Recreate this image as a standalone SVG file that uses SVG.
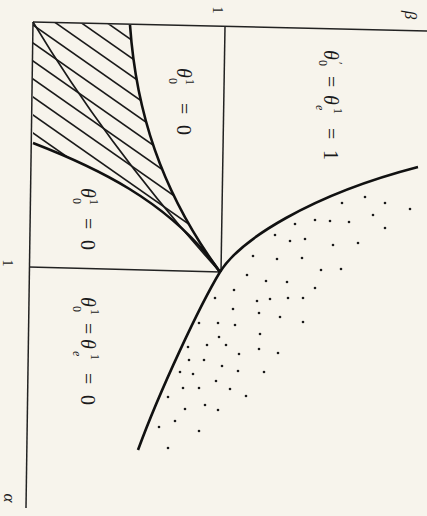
<svg xmlns="http://www.w3.org/2000/svg" width="427" height="516" viewBox="0 0 427 516">
<style>
.ax{fill:none;stroke:#222;stroke-width:1.5}
.thick{fill:none;stroke:#111;stroke-width:2.6}
.thin{fill:none;stroke:#1a1a1a;stroke-width:1.6}
.lbl{font-family:"Liberation Serif","DejaVu Serif",serif;font-size:20px;fill:#1a1a1a}
.it{font-style:italic}
.sm{font-size:12px}
.dots circle{fill:#1a1a1a}
</style>
<defs>
<clipPath id="hatchClip">
<path d="M33,22 L130,25 C136,110 160,190 220,272 C170,200 90,165 33,143 Z"/>
</clipPath>
</defs>
<rect width="427" height="516" fill="#f7f4ec"/>
<g id="axes">
<line class="ax" x1="33" y1="22" x2="427" y2="31"/>
<line class="ax" x1="33" y1="22" x2="26" y2="508"/>
<line class="ax" x1="225" y1="27" x2="221" y2="272"/>
<line class="ax" x1="29" y1="267" x2="221" y2="272"/>
</g>
<g id="hatch" clip-path="url(#hatchClip)" class="thin">
<line x1="20" y1="-56.1" x2="240" y2="97.9"/>
<line x1="20" y1="-38.1" x2="240" y2="115.9"/>
<line x1="20" y1="-20.1" x2="240" y2="133.9"/>
<line x1="20" y1="-2.1" x2="240" y2="151.9"/>
<line x1="20" y1="15.9" x2="240" y2="169.9"/>
<line x1="20" y1="33.9" x2="240" y2="187.9"/>
<line x1="20" y1="51.9" x2="240" y2="205.9"/>
<line x1="20" y1="69.9" x2="240" y2="223.9"/>
<line x1="20" y1="87.9" x2="240" y2="241.9"/>
<line x1="20" y1="105.9" x2="240" y2="259.9"/>
<line x1="20" y1="123.9" x2="240" y2="277.9"/>
<line x1="20" y1="141.9" x2="240" y2="295.9"/>
</g>
<g id="connectors">
<path class="thin" d="M33,22 Q110,150 220,272"/>
<path class="thick" d="M130,25 C136,110 160,190 220,272"/>
<path class="thick" d="M33,143 C90,165 170,200 220,272"/>
<path class="thick" d="M418,167 C310,195 240,240 220,272 C200,305 160,390 138,450"/>
</g>
<g id="dots" class="dots">
<circle cx="365" cy="197" r="1.3"/><circle cx="385" cy="203" r="1.3"/><circle cx="342" cy="203" r="1.3"/><circle cx="410" cy="209" r="1.3"/>
<circle cx="315" cy="220" r="1.3"/><circle cx="330" cy="221" r="1.3"/><circle cx="349" cy="222" r="1.3"/><circle cx="373" cy="215" r="1.3"/>
<circle cx="385" cy="228" r="1.3"/><circle cx="295" cy="224" r="1.3"/><circle cx="275" cy="235" r="1.3"/><circle cx="290" cy="241" r="1.3"/>
<circle cx="305" cy="239" r="1.3"/><circle cx="333" cy="245" r="1.3"/><circle cx="358" cy="243" r="1.3"/><circle cx="253" cy="256" r="1.3"/>
<circle cx="277" cy="259" r="1.3"/><circle cx="302" cy="258" r="1.3"/><circle cx="321" cy="270" r="1.3"/><circle cx="341" cy="269" r="1.3"/>
<circle cx="247" cy="275" r="1.3"/><circle cx="266" cy="281" r="1.3"/><circle cx="287" cy="282" r="1.3"/><circle cx="315" cy="288" r="1.3"/>
<circle cx="234" cy="290" r="1.3"/><circle cx="215" cy="298" r="1.3"/><circle cx="257" cy="301" r="1.3"/><circle cx="270" cy="299" r="1.3"/>
<circle cx="288" cy="298" r="1.3"/><circle cx="303" cy="298" r="1.3"/><circle cx="233" cy="309" r="1.3"/><circle cx="259" cy="313" r="1.3"/>
<circle cx="280" cy="317" r="1.3"/><circle cx="303" cy="322" r="1.3"/><circle cx="199" cy="323" r="1.3"/><circle cx="218" cy="323" r="1.3"/>
<circle cx="235" cy="325" r="1.3"/><circle cx="219" cy="337" r="1.3"/><circle cx="260" cy="334" r="1.3"/><circle cx="188" cy="347" r="1.3"/>
<circle cx="207" cy="345" r="1.3"/><circle cx="226" cy="345" r="1.3"/><circle cx="259" cy="349" r="1.3"/><circle cx="278" cy="353" r="1.3"/>
<circle cx="189" cy="360" r="1.3"/><circle cx="204" cy="360" r="1.3"/><circle cx="239" cy="354" r="1.3"/><circle cx="222" cy="366" r="1.3"/>
<circle cx="180" cy="372" r="1.3"/><circle cx="193" cy="374" r="1.3"/><circle cx="238" cy="371" r="1.3"/><circle cx="264" cy="372" r="1.3"/>
<circle cx="216" cy="381" r="1.3"/><circle cx="183" cy="388" r="1.3"/><circle cx="199" cy="388" r="1.3"/><circle cx="230" cy="389" r="1.3"/>
<circle cx="246" cy="396" r="1.3"/><circle cx="168" cy="397" r="1.3"/><circle cx="185" cy="409" r="1.3"/><circle cx="205" cy="405" r="1.3"/>
<circle cx="218" cy="410" r="1.3"/><circle cx="159" cy="427" r="1.3"/><circle cx="175" cy="421" r="1.3"/><circle cx="199" cy="431" r="1.3"/>
<circle cx="168" cy="448" r="1.3"/>
</g>
<g id="axis-labels" class="lbl">
<text class="it" font-size="17" text-anchor="middle" transform="translate(405,15) rotate(90)">β</text>
<text class="it" font-size="17" text-anchor="middle" transform="translate(4,498) rotate(90)">α</text>
<text font-size="14" text-anchor="middle" transform="translate(213,10) rotate(90)">1</text>
<text font-size="14" text-anchor="middle" transform="translate(3,263) rotate(90)">1</text>
</g>
<g id="label-upper" class="lbl">
<text transform="translate(177,68) rotate(90)"><tspan class="it" x="0" y="0">θ</tspan><tspan class="sm" x="10" y="8">0</tspan><tspan class="sm" x="11" y="-9">1</tspan><tspan x="35" y="0">=</tspan><tspan x="57" y="0">0</tspan></text>
</g>
<g id="label-lower" class="lbl">
<text transform="translate(81,188) rotate(90)"><tspan class="it" x="0" y="0">θ</tspan><tspan class="sm" x="10" y="8">0</tspan><tspan class="sm" x="11" y="-9">1</tspan><tspan x="30" y="0">=</tspan><tspan x="52" y="0">0</tspan></text>
</g>
<g id="label-right" class="lbl">
<text transform="translate(324,50) rotate(90)"><tspan class="it" x="0" y="0">θ</tspan><tspan class="sm" x="10" y="5">0</tspan><tspan class="sm" x="12" y="-10">′</tspan><tspan x="26" y="0">=</tspan><tspan class="it" x="45" y="0">θ</tspan><tspan class="sm it" x="55" y="8">e</tspan><tspan class="sm" x="58" y="-10">1</tspan><tspan x="78" y="0">=</tspan><tspan x="100" y="0">1</tspan></text>
</g>
<g id="label-bottom" class="lbl">
<text transform="translate(81,297) rotate(90)"><tspan class="it" x="0" y="0">θ</tspan><tspan class="sm" x="9" y="8">0</tspan><tspan class="sm" x="12" y="-10">1</tspan><tspan x="26" y="0">=</tspan><tspan class="it" x="42" y="0">θ</tspan><tspan class="sm it" x="54" y="8">e</tspan><tspan class="sm" x="57" y="-10">1</tspan><tspan x="76" y="0">=</tspan><tspan x="98" y="0">0</tspan></text>
</g>
</svg>
